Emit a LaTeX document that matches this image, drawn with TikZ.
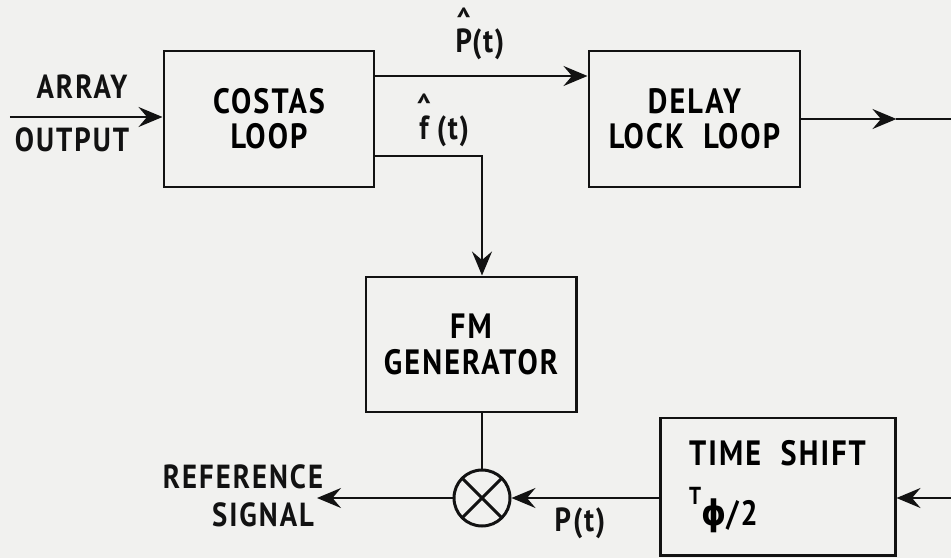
\documentclass[tikz,border=0pt]{standalone}
\usepackage{fontspec}
\setmainfont{PT Sans}[FakeStretch=0.86,LetterSpace=6]
\newfontfamily\greekfont{DejaVu Sans}[FakeStretch=0.9]
\usetikzlibrary{arrows.meta,positioning}
\definecolor{paper}{RGB}{241,241,239}
\definecolor{ink}{RGB}{18,18,18}
\newcommand{\hatted}[1]{\begin{tabular}[b]{@{}c@{}}\textasciicircum\\[-8pt]#1\end{tabular}}

\begin{document}
\begin{tikzpicture}[
    block/.style={draw=ink,line width=1.7pt,align=center,minimum width=4.2cm,minimum height=2.72cm,font=\fontsize{20}{20}\selectfont\bfseries,inner sep=0pt},
    arrow/.style={-{Stealth[length=4.8mm,width=4mm,inset=1.7mm]},line width=1.3pt,draw=ink},
    wire/.style={line width=1.3pt,draw=ink},
    lbl/.style={font=\fontsize{19}{20}\selectfont\bfseries,text=ink,inner sep=0pt}
  ]
    \fill[paper] (0,0) rectangle (19.02,11.16);
    \useasboundingbox (0,0) rectangle (19.02,11.16);
    % blocks
    \node[block] (costas) at (5.38,8.78) {COSTAS\\LOOP};
    \node[block,minimum width=4.22cm,right=4.24cm of costas] (dll) {DELAY\\LOCK\ \ LOOP};
    \node[block,minimum height=2.7cm] (fm) at (9.42,4.27) {FM\\GENERATOR};
    \node[block,minimum width=4.7cm,minimum height=2.74cm,align=left] (shift) at (15.55,1.43)
      {TIME\ \ SHIFT\\[14pt]\smash{\raisebox{0.6em}{\fontsize{14}{14}\selectfont T}}{\greekfont ϕ}/2};
    \node[draw=ink,line width=1.7pt,circle,minimum size=1.12cm,inner sep=0pt,
      path picture={\draw[line width=1.7pt,ink] (path picture bounding box.north west) -- (path picture bounding box.south east)
        (path picture bounding box.north east) -- (path picture bounding box.south west);}] (mix) at (9.64,1.2) {};
    % labels
    \node[lbl] (array) at (1.64,9.42) {ARRAY};
    \node[lbl] (output) at (1.44,8.36) {OUTPUT};
    \node[lbl,anchor=base] (plabel) at (9.6,10.1) {\hatted{P}(t)};
    \node[lbl,anchor=base] (flabel) at (8.86,8.38) {\hatted{f}\,(t)};
    \node[lbl] (ptlabel) at (11.6,0.7) {P(t)};
    \node[lbl] (reflabel) at (4.86,1.62) {REFERENCE};
    \node[lbl] (siglabel) at (5.26,0.86) {SIGNAL};
    % connectors
    \coordinate (src) at (0.2,8.82);
    \draw[arrow] (src) -- (src -| costas.west);
    \coordinate (phat) at ([yshift=0.86cm]costas.east);
    \draw[arrow] (phat) -- (phat -| dll.west);
    \coordinate (fhat) at ([yshift=-0.74cm]costas.east);
    \draw[arrow] (fhat) -| (mix |- fm.north);
    \draw[wire] (mix |- fm.south) -- (mix.north);
    \coordinate (dllmid) at ([xshift=1.9cm]dll.east);
    \coordinate (edge) at (19.02,1.2);
    \draw[arrow] (dll.east) -- (dllmid);
    \draw[wire] (dllmid) -- (dllmid -| edge);
    \draw[arrow] (edge) -- (edge -| shift.east);
    \draw[arrow] (mix -| shift.west) -- (mix.east);
    \coordinate (refout) at (6.34,1.2);
    \draw[arrow] (mix.west) -- (refout);
  \end{tikzpicture}
\end{document}
